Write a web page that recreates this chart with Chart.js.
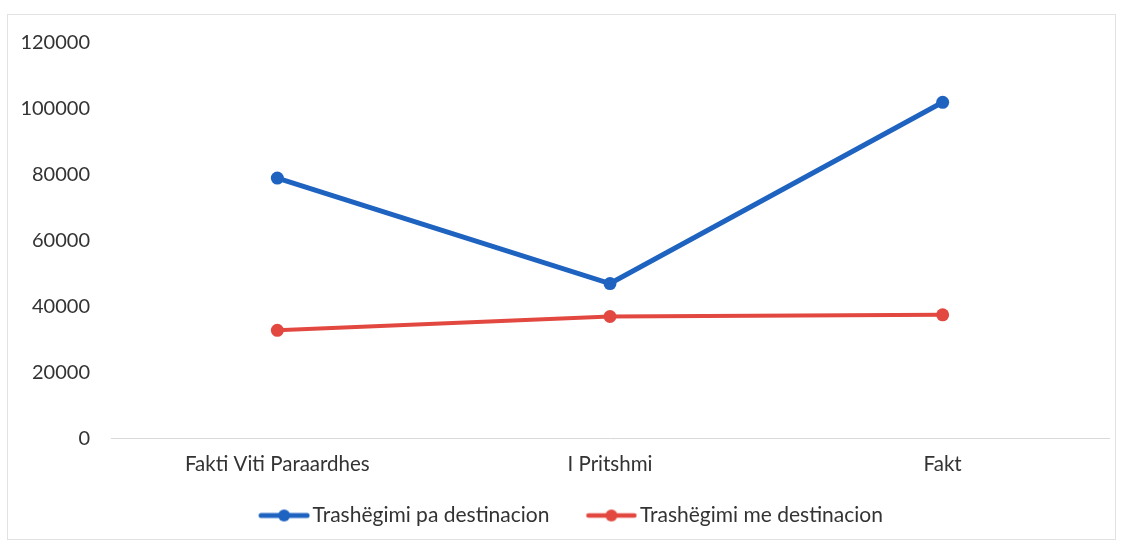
<!DOCTYPE html>
<html>
<head>
<meta charset="utf-8">
<script src="https://cdn.jsdelivr.net/npm/chart.js@4.4.1/dist/chart.umd.min.js"></script>
<style>
  html, body { margin: 0; padding: 0; background: #ffffff; }
  #wrap { position: relative; width: 1121px; height: 545px; }
  #frame { position: absolute; left: 7px; top: 14px; width: 1107px; height: 524px; border: 1px solid #e2e2e2; pointer-events: none; }
  canvas { position: absolute; left: 0; top: 0; }
</style>
</head>
<body>
<div id="wrap">
  <canvas id="c" width="1121" height="545"></canvas>
  <div id="frame"></div>
</div>
<script>
const categories = ["Fakti Viti Paraardhes", "I Pritshmi", "Fakt"];
const seriesNames = ["Trashëgimi pa destinacion", "Trashëgimi me destinacion"];
const paDestinacion = [79000, 47000, 102000];
const meDestinacion = [32800, 37000, 37500];
const yTicks = [0, 20000, 40000, 60000, 80000, 100000, 120000];

const BLUE = '#1f63c1';
const RED = '#e2483f';
const FONT = 'Lato, "Open Sans", sans-serif';

function legendIcon(color, lw) {
  const cv = document.createElement('canvas');
  cv.width = 52; cv.height = 14;
  const g = cv.getContext('2d');
  g.strokeStyle = color; g.lineWidth = lw; g.lineCap = 'round';
  g.beginPath(); g.moveTo(3, 7); g.lineTo(49, 7); g.stroke();
  g.fillStyle = color;
  g.beginPath(); g.arc(26, 7, 6, 0, Math.PI * 2); g.fill();
  return cv;
}
const icons = [legendIcon(BLUE, 5), legendIcon(RED, 4.5)];

const legendShift = {
  id: 'legendShift',
  afterLayout(chart) {
    const l = chart.legend;
    if (l) { l.top -= 30; l.bottom -= 30; l.left += 10; l.right += 10; }
  }
};

new Chart(document.getElementById('c'), {
  type: 'line',
  data: {
    labels: categories,
    datasets: [
      {
        label: seriesNames[0],
        data: paDestinacion,
        borderColor: BLUE,
        backgroundColor: BLUE,
        borderWidth: 5,
        pointStyle: 'circle',
        pointRadius: 6.5,
        pointHoverRadius: 6.5,
        pointBackgroundColor: BLUE,
        pointBorderWidth: 0,
        tension: 0
      },
      {
        label: seriesNames[1],
        data: meDestinacion,
        borderColor: RED,
        backgroundColor: RED,
        borderWidth: 4,
        pointStyle: 'circle',
        pointRadius: 6.5,
        pointHoverRadius: 6.5,
        pointBackgroundColor: RED,
        pointBorderWidth: 0,
        tension: 0
      }
    ]
  },
  plugins: [legendShift],
  options: {
    responsive: false,
    animation: false,
    layout: { padding: { left: 20, right: 12, top: 43, bottom: -21 } },
    plugins: {
      legend: {
        position: 'bottom',
        labels: {
          usePointStyle: true,
          pointStyleWidth: 36,
          color: '#333333',
          font: { family: FONT, size: 21 },
          padding: 44,
          generateLabels: (chart) => {
            const items = Chart.defaults.plugins.legend.labels.generateLabels(chart);
            items.forEach((it, i) => { it.pointStyle = icons[i]; });
            return items;
          }
        }
      },
      tooltip: { enabled: false }
    },
    scales: {
      x: {
        offset: true,
        grid: { display: false, drawTicks: false },
        border: { display: true, color: '#d9d9d9', width: 1 },
        ticks: { color: '#333333', font: { family: FONT, size: 20.5 }, padding: 14 }
      },
      y: {
        min: 0,
        max: 120000,
        afterBuildTicks: (s) => { s.ticks = yTicks.map(v => ({ value: v })); },
        afterFit: (s) => { s.width = 91; },
        grid: { display: false, drawTicks: false },
        border: { display: false },
        ticks: {
          color: '#333333',
          font: { family: FONT, size: 20 },
          padding: 21,
          callback: (v) => String(v)
        }
      }
    }
  }
});
</script>
</body>
</html>
